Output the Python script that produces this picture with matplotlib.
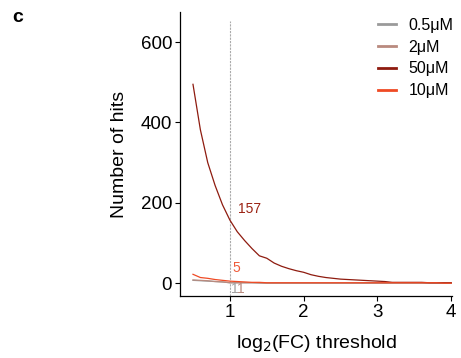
import matplotlib
matplotlib.use("Agg")
import matplotlib.pyplot as plt

plt.rcParams["font.family"] = ["Liberation Sans", "DejaVu Sans"]

# log2(FC) thresholds
thresholds = [0.5, 0.6, 0.7, 0.8, 0.9, 1.0, 1.1, 1.2, 1.3, 1.4, 1.5, 1.6,
              1.7, 1.8, 1.9, 2.0, 2.1, 2.2, 2.3, 2.4, 2.5, 2.6, 2.7, 2.8,
              2.9, 3.0, 3.1, 3.2, 3.3, 3.4, 3.5, 3.6, 3.7, 3.8, 3.9, 4.0]

hits_05 = [7, 6, 5, 4, 3, 1, 1, 1, 1, 1, 0, 0, 0, 0, 0, 0, 0, 0, 0, 0,
           0, 0, 0, 0, 0, 0, 0, 0, 0, 0, 0, 0, 0, 0, 0, 0]
hits_2 = [8, 7, 6, 4, 3, 1, 1, 1, 1, 0, 0, 0, 0, 0, 0, 0, 0, 0, 0, 0,
          0, 0, 0, 0, 0, 0, 0, 0, 0, 0, 0, 0, 0, 0, 0, 0]
hits_50 = [495, 382, 300, 243, 195, 157, 128, 106, 86, 68, 62, 50,
           42, 36, 31, 27, 21, 17, 14, 12, 10, 9, 8, 7,
           6, 5, 4, 2, 2, 2, 2, 2, 1, 1, 1, 1]
hits_10 = [22, 14, 12, 9, 7, 5, 4, 3, 2, 2, 1, 1, 1, 1, 1, 1, 1, 1, 1, 1,
           1, 1, 1, 1, 1, 1, 1, 1, 1, 1, 1, 1, 1, 1, 0, 0]

series = [
    ("0.5\u03bcM", hits_05, "#9a9a9a"),
    ("2\u03bcM", hits_2, "#b98a7e"),
    ("50\u03bcM", hits_50, "#8e1b0f"),
    ("10\u03bcM", hits_10, "#ef4a24"),
]
cutoff = 1.0

fig = plt.figure(figsize=(4.61, 3.58), dpi=100)
ax = fig.add_axes([180 / 461, 62 / 358, 272 / 461, 284 / 358])

for name, vals, col in series:
    ax.plot(thresholds, vals, color=col, lw=0.9, label=name)

ax.axvline(cutoff, ymax=0.97, color="#aaaaaa", lw=0.8, ls=(0, (2, 1)), zorder=0)

# value labels at the cutoff
i = thresholds.index(cutoff)
labels = [
    (hits_50, "#9b2212", (5.5, 8)),
    (hits_10, "#ef5b3a", (1.5, 9.5)),
    (hits_05, "#a0a0a0", (0.5, -4.7)),
    (hits_2, "#b98a7e", (5, -4.7)),
]
for vals, col, off in labels:
    ax.annotate(str(vals[i]), (cutoff, vals[i]), xytext=off,
                textcoords="offset points", ha="left", va="center",
                fontsize=10, color=col)

ax.set_xlim(0.324, 4.01)
ax.set_ylim(-32, 675)
ax.set_xticks([1, 2, 3, 4])
ax.set_yticks([0, 200, 400, 600])
ax.tick_params(labelsize=13.5, length=3.6, width=0.8, pad=2)
ax.spines["top"].set_visible(False)
ax.spines["right"].set_visible(False)
ax.spines["left"].set_linewidth(0.9)
ax.spines["bottom"].set_linewidth(0.9)
ax.set_xlabel("log$_2$(FC) threshold", fontsize=14, labelpad=9)
ax.set_ylabel("Number of hits", fontsize=14, labelpad=9)

leg = fig.legend(loc="upper left", bbox_to_anchor=(378 / 461, 1 - 18 / 358),
                 frameon=False, fontsize=11.5, handlelength=1.1, handletextpad=0.8,
                 labelspacing=0.42, borderpad=0, borderaxespad=0)
for ln in leg.get_lines():
    ln.set_linewidth(2)

fig.text(12 / 461, 1 - 17 / 358, "c", fontsize=14, fontweight="bold", va="center")

fig.savefig("out.png", dpi=100)
